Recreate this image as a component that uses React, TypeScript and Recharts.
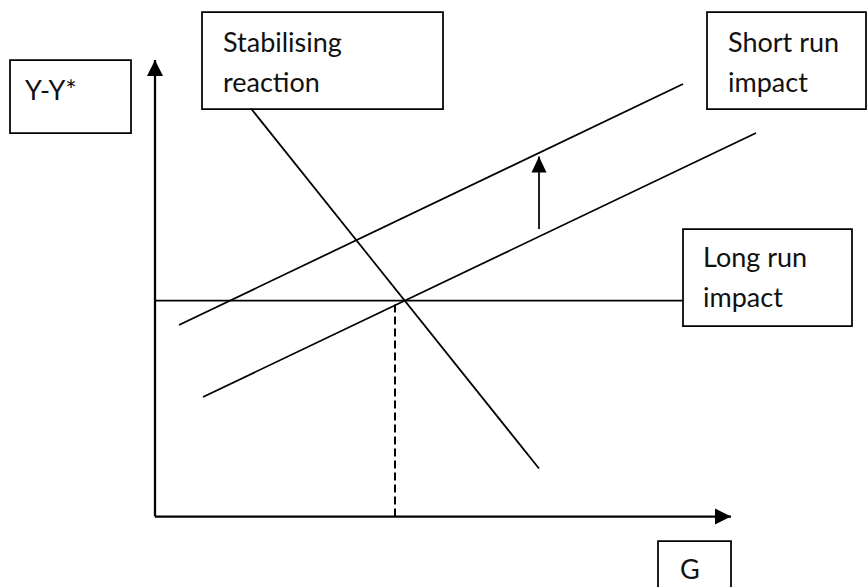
import { ComposedChart, Line, XAxis, YAxis, ReferenceArea, ReferenceDot } from 'recharts';

// data units: G along the horizontal, Y-Y* up the vertical, origin at the axes corner
const longRun = [{ x: 0, y: 21.6 }, { x: 52.8, y: 21.6 }];
const stabilising = [{ x: 9.6, y: 40.8 }, { x: 38.4, y: 4.8 }];
const shortRun = [{ x: 2.4, y: 19.15 }, { x: 52.8, y: 43.25 }];
const initial = [{ x: 4.8, y: 11.95 }, { x: 60.1, y: 38.35 }];
const dropLine = [{ x: 24.0, y: 0 }, { x: 24.0, y: 21.6 }];
const shift = [{ x: 38.4, y: 28.75 }, { x: 38.4, y: 36.0 }];
const yAxisLine = [{ x: 0, y: 0 }, { x: 0, y: 45.65 }];
const xAxisLine = [{ x: 0, y: 0 }, { x: 57.6, y: 0 }];

const boxTexts = [['Y-Y*'], ['Stabilising', 'reaction'], ['Short run', 'impact'], ['Long run', 'impact'], ['G']];
// box corners in data units, and text inset in px
const boxes = [
  { x1: -14.5, x2: -2.4, y1: 38.35, y2: 45.65, dx: 15, dy: 40 },
  { x1: 4.7, x2: 28.8, y1: 40.75, y2: 50.45, dx: 21, dy: 40 },
  { x1: 55.2, x2: 71.1, y1: 40.75, y2: 50.45, dx: 21, dy: 40 },
  { x1: 52.8, x2: 69.7, y1: 19.05, y2: 28.75, dx: 20, dy: 38 },
  { x1: 50.3, x2: 57.6, y1: -7.5, y2: -2.45, dx: 22, dy: 38 },
];

const BoxLabel = (props: any) => {
  const { viewBox, lines, dx, dy } = props;
  return (
    <text x={viewBox.x + dx} y={viewBox.y + dy} fontFamily="Lato" fontSize={27} fill="#111">
      {lines.map((l: string, i: number) => (
        <tspan key={i} x={viewBox.x + dx} dy={i === 0 ? 0 : 40}>{l}</tspan>
      ))}
    </text>
  );
};

const UpHead = (w: number, h: number) => (p: any) => (
  <polygon points={`${p.cx},${p.cy} ${p.cx - w / 2},${p.cy + h} ${p.cx + w / 2},${p.cy + h}`} fill="#000" />
);
const RightHead = (p: any) => (
  <polygon points={`${p.cx},${p.cy} ${p.cx - 16},${p.cy - 8} ${p.cx - 16},${p.cy + 8}`} fill="#000" />
);

export default function App() {
  const seg = (d: any[], w = 1.75, dash?: string) => (
    <Line data={d} dataKey="y" stroke="#000" strokeWidth={w} strokeDasharray={dash} dot={false} activeDot={false} type="linear" isAnimationActive={false} />
  );
  return (
    <div style={{ position: 'absolute', left: 0, top: 0, background: '#fff' }}>
      <ComposedChart width={867} height={587} margin={{ top: 0, right: 0, bottom: 0, left: 0 }}>
        <XAxis type="number" dataKey="x" domain={[-15.5, 71.2]} allowDataOverflow hide />
        <YAxis type="number" domain={[-7.05, 51.65]} allowDataOverflow hide />
        {seg(yAxisLine, 2.25)}
        {seg(xAxisLine, 2.25)}
        {seg(longRun)}
        {seg(stabilising)}
        {seg(shortRun)}
        {seg(initial)}
        {seg(dropLine, 2, '8 4')}
        {seg(shift)}
        <ReferenceDot x={0} y={45.65} ifOverflow="visible" shape={UpHead(16, 16)} />
        <ReferenceDot x={57.6} y={0} ifOverflow="visible" shape={RightHead} />
        <ReferenceDot x={38.4} y={36.0} ifOverflow="visible" shape={UpHead(15, 16)} />
        {boxes.map((b, i) => (
          <ReferenceArea key={i} x1={b.x1} x2={b.x2} y1={b.y1} y2={b.y2} ifOverflow="visible"
            fill="#fff" fillOpacity={1} stroke="#000" strokeWidth={1.75}
            label={<BoxLabel lines={boxTexts[i]} dx={b.dx} dy={b.dy} />} />
        ))}
      </ComposedChart>
    </div>
  );
}
